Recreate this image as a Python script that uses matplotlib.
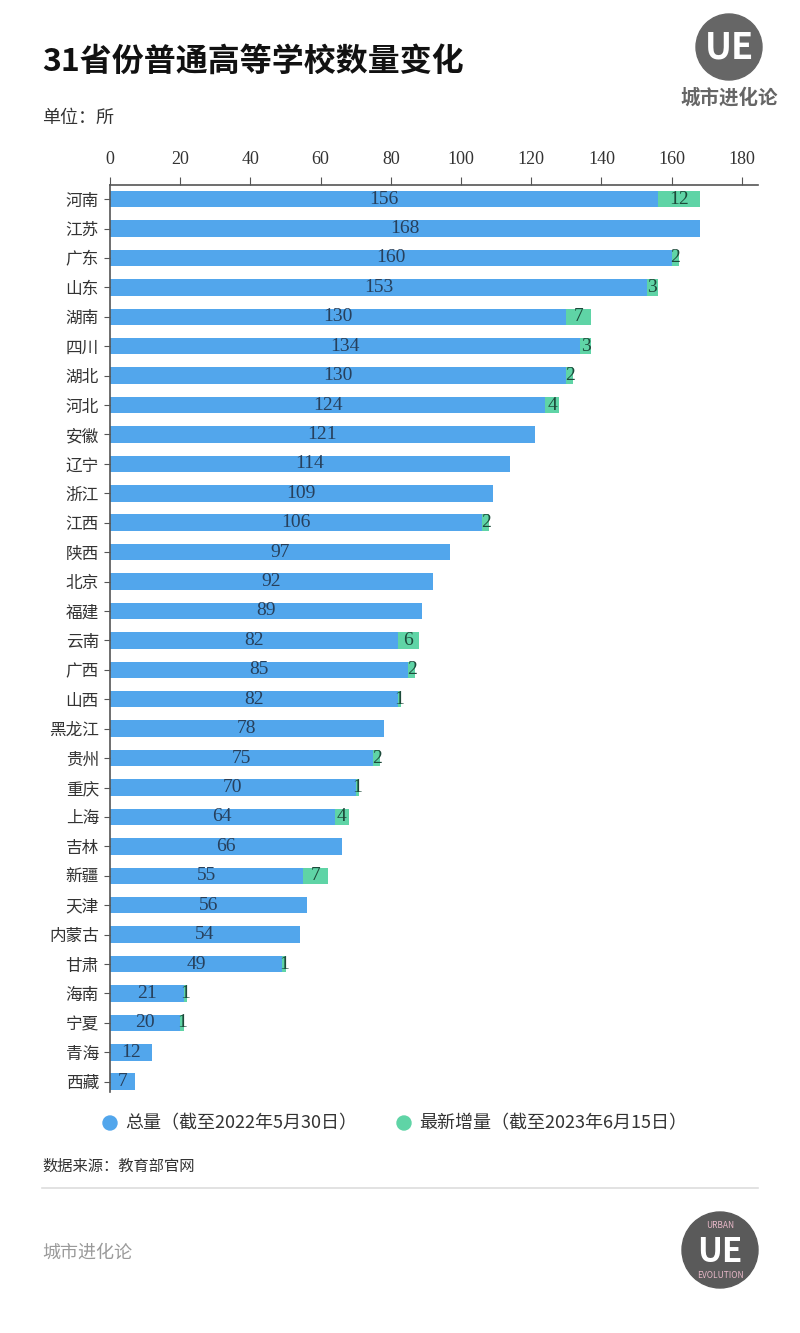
import matplotlib.pyplot as plt
from matplotlib.patches import Circle

plt.rcParams['font.family'] = ['Noto Sans CJK SC', 'DejaVu Sans']

provinces = ['河南', '江苏', '广东', '山东', '湖南', '四川', '湖北', '河北', '安徽', '辽宁',
             '浙江', '江西', '陕西', '北京', '福建', '云南', '广西', '山西', '黑龙江', '贵州',
             '重庆', '上海', '吉林', '新疆', '天津', '内蒙古', '甘肃', '海南', '宁夏', '青海', '西藏']
total = [156, 168, 160, 153, 130, 134, 130, 124, 121, 114,
         109, 106, 97, 92, 89, 82, 85, 82, 78, 75,
         70, 64, 66, 55, 56, 54, 49, 21, 20, 12, 7]
added = [12, 0, 2, 3, 7, 3, 2, 4, 0, 0,
         0, 2, 0, 0, 0, 6, 2, 1, 0, 2,
         1, 4, 0, 7, 0, 0, 1, 1, 1, 0, 0]
xticks = [0, 20, 40, 60, 80, 100, 120, 140, 160, 180]

blue = '#52a6ec'
green = '#5fd4a6'
W, H = 800, 1333

fig = plt.figure(figsize=(8, 13.33), dpi=100)

# background layer in pixel coords for logos and legend markers
bg = fig.add_axes([0, 0, 1, 1], zorder=-1)
bg.set_xlim(0, W)
bg.set_ylim(H, 0)
bg.axis('off')

ax = fig.add_axes([110 / W, 1 - 1092 / H, (758 - 110) / W, (1092 - 185) / H])
ax.patch.set_alpha(0)

y = range(len(provinces))
ax.barh(y, total, height=0.56, color=blue)
ax.barh(y, added, left=total, height=0.56, color=green)

num_font = ['Liberation Serif', 'Noto Sans CJK SC']
for i in y:
    ax.text(total[i] / 2, i, str(total[i]), ha='center', va='center',
            fontsize=14, color='#27405c', family=num_font)
    if added[i] > 0:
        ax.text(total[i] + added[i] / 2, i, str(added[i]), ha='center', va='center',
                fontsize=14, color='#1d4a3a', family=num_font)

ax.set_xlim(0, 184.6)
ax.set_ylim(30.35, -0.48)
ax.set_yticks(list(y))
ax.set_yticklabels(provinces, fontsize=12, color='#333333')
ax.xaxis.tick_top()
ax.set_xticks(xticks)
ax.set_xticklabels([str(t) for t in xticks], fontsize=13, color='#333333', family=num_font)
ax.tick_params(axis='x', length=6, color='#555555', pad=6)
ax.tick_params(axis='y', length=4, color='#555555', pad=4)
for s in ['right', 'bottom']:
    ax.spines[s].set_visible(False)
for s in ['top', 'left']:
    ax.spines[s].set_color('#555555')
    ax.spines[s].set_linewidth(1.2)

# title and notes
fig.text(42 / W, 1 - 62 / H, '31省份普通高等学校数量变化', fontsize=23, fontweight='bold',
         color='#111111', va='center')
fig.text(42 / W, 1 - 118 / H, '单位：所', fontsize=13, color='#333333', va='center')

# legend
bg.add_patch(Circle((110, 1123), 7, color=blue))
fig.text(125 / W, 1 - 1123 / H, '总量（截至2022年5月30日）', fontsize=13, color='#333333', va='center')
bg.add_patch(Circle((404, 1123), 7, color=green))
fig.text(419 / W, 1 - 1123 / H, '最新增量（截至2023年6月15日）', fontsize=13, color='#333333', va='center')

fig.text(42 / W, 1 - 1166 / H, '数据来源：教育部官网', fontsize=11, color='#333333', va='center')
bg.plot([42, 758], [1188, 1188], color='#dddddd', lw=1.2)
fig.text(42 / W, 1 - 1253 / H, '城市进化论', fontsize=13, color='#9a9a9a', va='center')

# logos
bg.add_patch(Circle((729, 47), 33, color='#666666'))
bg.text(729, 48, 'UE', ha='center', va='center', fontsize=26, fontweight='bold', color='white')
bg.text(729, 98, '城市进化论', ha='center', va='center', fontsize=14, fontweight='bold', color='#666666')
bg.add_patch(Circle((720, 1250), 38, color='#5a5a5a'))
bg.text(720, 1252, 'UE', ha='center', va='center', fontsize=24, fontweight='bold', color='white')
bg.text(720, 1225, 'URBAN', ha='center', va='center', fontsize=6, color='#e8b8c8')
bg.text(720, 1276, 'EVOLUTION', ha='center', va='center', fontsize=6, color='#e8b8c8')

fig.savefig('out.png', dpi=100, facecolor='white')
